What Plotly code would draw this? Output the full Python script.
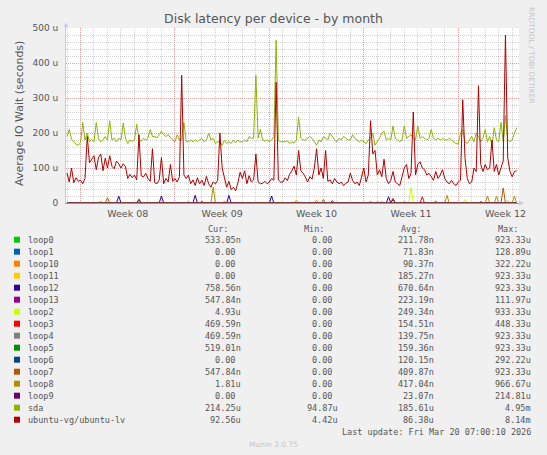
import plotly.graph_objects as go
import pandas as pd

W, H = 547, 455
# plot box in pixels
X0, X1, YT, YB = 66, 519, 28, 203

# 4 hour samples starting Sun Feb 15 00:00, values in microseconds
start = "2026-02-15 00:00"

sda = [
    190, 210, 182, 175, 168, 165,
    172, 230, 180, 200, 175, 182,
    175, 230, 185, 175, 180, 190,
    180, 235, 180, 185, 175, 185,
    180, 228, 185, 170, 180, 176,
    180, 225, 182, 176, 185, 180,
    185, 210, 190, 190, 186, 195,
    205, 195, 190, 196, 186, 180,
    175, 195, 180, 180, 230, 176,
    175, 180, 175, 180, 176, 180,
    185, 175, 180, 200, 180, 185,
    170, 175, 175, 165, 180, 170,
    175, 170, 180, 172, 180, 175,
    175, 180, 175, 190, 185, 185,
    365, 185, 210, 180, 176, 180,
    175, 180, 190, 465, 178, 175,
    175, 175, 178, 170, 175, 172,
    180, 245, 185, 180, 180, 185,
    190, 185, 175, 165, 180, 175,
    190, 185, 180, 200, 190, 180,
    175, 185, 180, 190, 185, 180,
    180, 195, 185, 180, 175, 180,
    175, 170, 180, 185, 200, 165,
    175, 185, 200, 205, 180, 185,
    180, 220, 185, 180, 175, 180,
    220, 185, 190, 195, 185, 180,
    220, 185, 190, 185, 180, 185,
    210, 185, 180, 185, 180, 185,
    180, 180, 185, 180, 175, 170,
    168, 200, 210, 175, 170, 180,
    190, 175, 200, 190, 175, 185,
    210, 175, 190, 165, 215, 180,
    175, 230, 175, 250, 180, 175,
    180, 200, 215,
]

ubuntu_lv = [
    86, 60, 100, 58, 72, 62,
    65, 55, 70, 190, 115, 125,
    135, 95, 130, 140, 92, 128,
    100, 135, 105, 98, 120, 112,
    100, 112, 104, 70, 82, 72,
    80, 66, 195, 78, 74, 85,
    70, 62, 155, 58, 55, 66,
    130, 55, 70, 60, 110, 62,
    70, 60, 75, 365, 80, 70,
    80, 55, 66, 50, 72, 55,
    65, 50, 76, 55, 45, 60,
    55, 65, 200, 100, 70, 45,
    62, 38, 45, 35, 58, 88,
    70, 92, 55, 78, 60, 66,
    140, 60, 55, 56, 62, 55,
    60, 70, 65, 345, 66, 60,
    60, 72, 64, 82, 92, 105,
    80, 150, 92, 85, 74, 60,
    75, 68, 100, 155, 80, 100,
    70, 150, 62, 66, 55, 70,
    60, 55, 60, 50, 56, 60,
    85, 65, 55, 60, 50, 75,
    100, 60, 80, 235, 140, 150,
    80, 95, 75, 125, 70, 55,
    65, 90, 60, 55, 50, 75,
    100, 110, 70, 85, 260, 80,
    110, 118, 100, 95, 80, 85,
    75, 65, 90, 70, 80, 95,
    70, 60, 55, 65, 55, 50,
    60, 65, 295, 130, 70, 55,
    60, 100, 90, 335, 110, 90,
    110, 95, 100, 180, 90, 110,
    80, 100, 120, 480, 130, 90,
    75, 90, 92,
]

# loop devices sit at 0 nearly all month: (sample index, value)
loop0_spikes = [(164, 6)]
loop1_spikes = [(138, 3), (140, 3)]
loop10_spikes = [(15, 5), (70, 5), (102, 8), (111, 8), (135, 5), (150, 4)]
loop11_spikes = [(196, 8)]
loop12_spikes = [(23, 20), (42, 20), (54, 3), (57, 22), (60, 4), (72, 22), (91, 20), (118, 6), (143, 18)]
loop13_spikes = [(184, 4)]
loop2_spikes = [(153, 45), (177, 10)]
loop3_spikes = [(158, 18)]
loop4_spikes = []
loop5_spikes = []
loop6_spikes = []
loop7_spikes = [(18, 15), (32, 12), (114, 10), (145, 14), (194, 43)]
loop8_spikes = [(65, 45), (169, 22), (187, 20), (191, 20), (199, 20)]
loop9_spikes = [(32, 8), (145, 10)]

names = ["loop0", "loop1", "loop10", "loop11", "loop12", "loop13", "loop2", "loop3",
         "loop4", "loop5", "loop6", "loop7", "loop8", "loop9", "sda", "ubuntu-vg/ubuntu-lv"]
colors = ["#00CC00", "#0066B3", "#FF8000", "#FFCC00", "#330099", "#990099", "#CCFF00", "#FF0000",
          "#808080", "#008F00", "#00487D", "#B35A00", "#B38F00", "#6B006B", "#8FB300", "#B30000"]
cur_vals = ["533.05n", "0.00", "0.00", "0.00", "758.56n", "547.84n", "4.93u", "469.59n",
            "469.59n", "519.01n", "0.00", "547.84n", "1.81u", "0.00", "214.25u", "92.56u"]
min_vals = ["0.00"] * 14 + ["94.87u", "4.42u"]
avg_vals = ["211.78n", "71.83n", "90.37n", "185.27n", "670.64n", "223.19n", "249.34n", "154.51n",
            "139.75n", "159.36n", "120.15n", "409.87n", "417.04n", "23.07n", "185.61u", "86.38u"]
max_vals = ["923.33u", "128.89u", "322.22u", "923.33u", "923.33u", "111.97u", "933.33u", "448.33u",
            "923.33u", "923.33u", "292.22u", "923.33u", "966.67u", "214.81u", "4.95m", "8.14m"]

y_ticks = [0, 100, 200, 300, 400, 500]
y_ticktext = ["0", "100 u", "200 u", "300 u", "400 u", "500 u"]


def fx(px):
    return (px - X0) / (X1 - X0)


def fy(py):
    return (YB - py) / (YB - YT)


times = pd.date_range(start, periods=len(sda), freq="4h")

loops = [loop0_spikes, loop1_spikes, loop10_spikes, loop11_spikes, loop12_spikes, loop13_spikes,
         loop2_spikes, loop3_spikes, loop4_spikes, loop5_spikes, loop6_spikes, loop7_spikes,
         loop8_spikes, loop9_spikes]

fig = go.Figure()
for i, spikes in enumerate(loops):
    vals = [0] * len(times)
    for idx, v in spikes:
        vals[idx] = v
    fig.add_trace(go.Scatter(x=times, y=vals, mode="lines", name=names[i],
                             line=dict(color=colors[i], width=1)))
fig.add_trace(go.Scatter(x=times, y=sda, mode="lines", name="sda",
                         line=dict(color=colors[14], width=1)))
# drawn last (on top) and on the overlay axis that carries the week labels
fig.add_trace(go.Scatter(x=times, y=ubuntu_lv, mode="lines", name=names[15], xaxis="x2",
                         line=dict(color=colors[15], width=1)))

red_grid = "rgba(255,70,70,0.35)"
gray_grid = "rgba(140,140,140,0.38)"
dots = "1px,1px"
axis_col = "#c4c8f2"
txt = "#555555"
x_range = ["2026-02-14 22:12", "2026-03-20 12:05"]

fig.update_layout(
    width=W, height=H,
    margin=dict(l=X0, r=W - X1, t=YT, b=H - YB, pad=0),
    paper_bgcolor="#F0F0F0", plot_bgcolor="white",
    showlegend=False,
    font=dict(family="DejaVu Sans", color=txt, size=9),
    title=dict(text="Disk latency per device - by month", x=0.5, xref="container",
               y=1 - 18.5 / H, yref="container", yanchor="middle", xanchor="center",
               font=dict(size=12.5, color=txt)),
    # daily gray grid
    xaxis=dict(
        range=x_range, tickmode="linear", tick0="2026-02-15", dtick=86400000,
        showticklabels=False, showgrid=True, gridcolor=gray_grid, griddash=dots, gridwidth=1,
        showline=True, linecolor="#a586cf", linewidth=1, ticks="", zeroline=False,
    ),
    # weekly red grid + week labels centred in each week
    xaxis2=dict(
        overlaying="x", anchor="y", side="bottom", range=x_range,
        tickmode="linear", tick0="2026-02-16", dtick=7 * 86400000,
        tickformat="Week %V", ticklabelmode="period",
        showgrid=True, gridcolor=red_grid, griddash=dots, gridwidth=1,
        showline=False, ticks="", zeroline=False, ticklabelstandoff=3,
        tickfont=dict(size=9.5, color=txt),
    ),
    yaxis=dict(
        range=[0, 500], tickmode="array", tickvals=y_ticks, ticktext=y_ticktext,
        showgrid=True, gridcolor=red_grid, griddash=dots, gridwidth=1,
        minor=dict(tickmode="linear", tick0=0, dtick=20,
                   showgrid=True, gridcolor=gray_grid, griddash=dots, gridwidth=1),
        showline=True, linecolor=axis_col, linewidth=1,
        ticks="", zeroline=False, ticklabelstandoff=5,
        tickfont=dict(size=9, color=txt),
    ),
)

shapes = []
# axis arrows
shapes.append(dict(type="line", xref="paper", yref="paper", x0=0, x1=0, y0=1, y1=fy(24),
                   line=dict(color=axis_col, width=1)))
shapes.append(dict(type="path", xref="paper", yref="paper",
                   path=f"M {fx(63.5)},{fy(27)} L {fx(66)},{fy(22.5)} L {fx(68.5)},{fy(27)} Z",
                   fillcolor=axis_col, line=dict(width=0)))
shapes.append(dict(type="path", xref="paper", yref="paper",
                   path=f"M {fx(519)},{fy(200.5)} L {fx(524)},{fy(203)} L {fx(519)},{fy(205.5)} Z",
                   fillcolor=axis_col, line=dict(width=0)))

ann = []
ann.append(dict(text="Average IO Wait (seconds)", textangle=-90, x=fx(10.5), y=fy(114),
                xref="paper", yref="paper", showarrow=False, font=dict(size=11, color=txt)))
ann.append(dict(text="RRDTOOL / TOBI OETIKER", textangle=90, x=fx(538), y=fy(5),
                xref="paper", yref="paper", yanchor="top", showarrow=False,
                font=dict(size=7.5, color="#c4c4c4")))

mono = dict(family="DejaVu Sans Mono", size=8.5, color=txt)
col_right = [242.5, 340.2, 436.2, 532.8]
head_right = [230, 326, 423, 520]
for label, xr in zip(["Cur:", "Min:", "Avg:", "Max:"], head_right):
    ann.append(dict(text=label, x=fx(xr), y=fy(228.5), xref="paper", yref="paper",
                    xanchor="right", yanchor="middle", showarrow=False, font=mono))

for i, name in enumerate(names):
    ry = 239.7 + 12 * i
    shapes.append(dict(type="rect", xref="paper", yref="paper", x0=fx(14), x1=fx(20),
                       y0=fy(ry + 3), y1=fy(ry - 3), fillcolor=colors[i], line=dict(width=0)))
    ann.append(dict(text=name, x=fx(26), y=fy(ry), xref="paper", yref="paper",
                    xanchor="left", yanchor="middle", showarrow=False, font=mono))
    for vals, xr in zip([cur_vals, min_vals, avg_vals, max_vals], col_right):
        v = vals[i]
        if v[-1].isdigit():
            v = v + "\u00a0"
        ann.append(dict(text=v, x=fx(xr), y=fy(ry), xref="paper", yref="paper",
                        xanchor="right", yanchor="middle", showarrow=False, font=mono))

ann.append(dict(text="Last update: Fri Mar 20 07:00:10 2026", x=fx(532.8), y=fy(431.7),
                xref="paper", yref="paper", xanchor="right", yanchor="middle",
                showarrow=False, font=mono))
ann.append(dict(text="Munin 2.0.75", x=fx(273.5), y=fy(444.5), xref="paper", yref="paper",
                xanchor="center", yanchor="middle", showarrow=False,
                font=dict(size=7.5, color="#c4c4c4")))

fig.update_layout(shapes=shapes, annotations=ann)
# drop the default 8px page margin so the figure sits at the window's corner
fig.write_html("out.html", config={"displayModeBar": False},
               post_script="document.body.style.margin='0';document.body.style.overflow='hidden';")
